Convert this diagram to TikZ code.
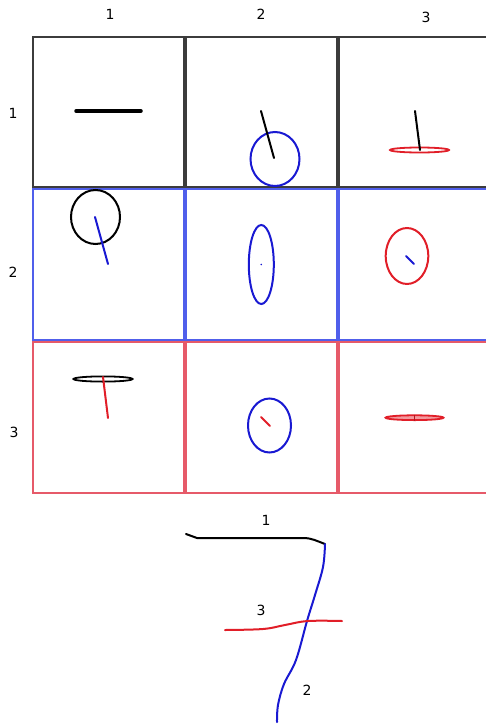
\documentclass[tikz,border=0pt]{standalone}
\usepackage{fontspec}
\setmainfont{DejaVu Sans}
\definecolor{pblue}{RGB}{25,25,210}
\definecolor{pred}{RGB}{225,30,40}
\definecolor{bblack}{RGB}{60,60,60}
\definecolor{bblue}{RGB}{80,95,235}
\definecolor{bred}{RGB}{230,90,105}
\begin{document}
\begin{tikzpicture}[x=1pt,y=-1pt,
  lbl/.style={font=\fontsize{14}{16}\selectfont, inner sep=0pt},
  cellk/.style={draw=bblack, line width=1.4pt},
  cellb/.style={draw=bblue, line width=1.4pt},
  cellr/.style={draw=bred, line width=1.4pt},
  pen/.style={line width=2pt, line cap=round},
  thickpen/.style={line width=3.5pt, line cap=round},
  ink/.style={line width=2pt, line cap=round, line join=round}]
\useasboundingbox (0,0) rectangle (486,725);
% labels
\node[lbl] (c1) at (110,14) {1};
\node[lbl] (c2) at (261,14) {2};
\node[lbl] (c3) at (426,17) {3};
\node[lbl] (r1) at (13,113) {1};
\node[lbl] (r2) at (13,272) {2};
\node[lbl] (r3) at (14,432) {3};
% grid cells
\draw[cellk] (33,37) rectangle (184,187);
\draw[cellk] (186,37) rectangle (337,187);
\draw[cellk] (339,37) rectangle (492,187);
\draw[cellb] (33,189) rectangle (184,340);
\draw[cellb] (186,189) rectangle (337,340);
\draw[cellb] (339,189) rectangle (492,340);
\draw[cellr] (33,342) rectangle (184,493);
\draw[cellr] (186,342) rectangle (337,493);
\draw[cellr] (339,342) rectangle (492,493);
% row 1
\draw[thickpen, black] (76,111) -- (141,111);
\draw[pen, pblue] (275,159) ellipse [x radius=24.5pt, y radius=27pt];
\draw[pen, black] (261,111) -- (274,158);
\draw[line width=1.8pt, pred] (419.5,150) ellipse [x radius=29.5pt, y radius=2.5pt];
\draw[pen, black] (415,111) -- (420,150);
% row 2
\draw[pen, black] (95.5,217) ellipse [x radius=24.5pt, y radius=27pt];
\draw[pen, pblue] (95,217) -- (108,264);
\draw[pen, pblue] (261.3,264.5) ellipse [x radius=12.5pt, y radius=39.5pt];
\fill[pblue] (261.3,264.5) circle (0.9pt);
\draw[pen, pred] (407,256) ellipse [x radius=21.3pt, y radius=28pt];
\draw[pen, pblue] (406,256) -- (414,264);
% row 3
\draw[line width=1.8pt, black] (103,379) ellipse [x radius=29.5pt, y radius=2.6pt];
\draw[pen, pred] (103,377) -- (108,418);
\draw[pen, pblue] (269.5,425.5) ellipse [x radius=21.5pt, y radius=27pt];
\draw[pen, pred] (261,417) -- (270,426);
\draw[line width=1.8pt, pred, fill=pred!45] (414.5,417.7) ellipse [x radius=29pt, y radius=2.4pt];
\draw[line width=1pt, pred!80!black] (414,414.5) -- (414,421);
% bottom sketch
\node[lbl] (b1) at (266,520) {1};
\node[lbl] (b3) at (261,610) {3};
\node[lbl] (b2) at (307,690) {2};
\coordinate (k0) at (186,534);
\coordinate (corner) at (325,544);
\draw[ink, black] (k0) -- (197,538) -- (303,538) to[out=0,in=160] (corner);
\draw[ink, pblue] plot[smooth, tension=0.6] coordinates {(corner) (323,567) (315,595) (307,621) (296,660) (284,684) (278,705) (277,722)};
\draw[ink, pred] plot[smooth, tension=0.6] coordinates {(225,630) (263,629) (285,625) (308,621) (342,621)};
\end{tikzpicture}
\end{document}
